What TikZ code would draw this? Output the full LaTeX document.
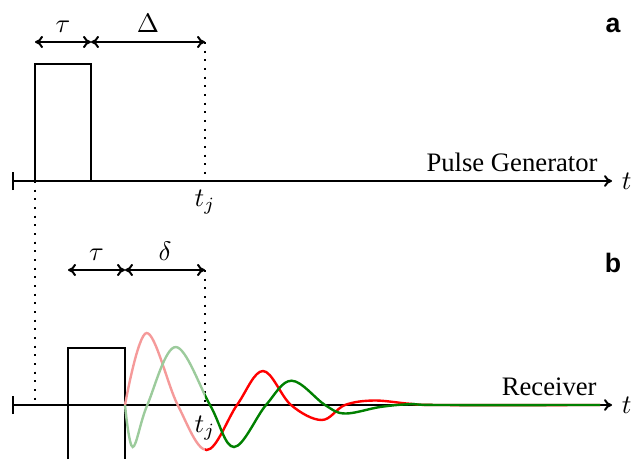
\documentclass[tikz,border=0pt]{standalone}
\usepackage{fontspec}
\setmainfont{Liberation Serif}
\newfontfamily\panelfont{Liberation Sans}
\usetikzlibrary{arrows.meta,positioning}
\definecolor{sigred}{HTML}{FF0000}
\definecolor{siggreen}{HTML}{008000}
\definecolor{palered}{HTML}{F59A9A}
\definecolor{palegreen}{HTML}{9CCB9C}
\tikzset{
  axis/.style  ={{Bar[width=6.8pt]}-{To[length=3pt,width=4.4pt]},line width=0.75pt},
  pulse/.style ={line width=0.75pt},
  dim/.style   ={{To[length=3pt,width=4.6pt]}-{To[length=3pt,width=4.6pt]},line width=0.75pt},
  guide/.style ={line width=0.8pt,dash pattern=on 0.8pt off 2.45pt},
  wave/.style  ={line width=0.9pt},
  panel/.style ={font=\panelfont\bfseries,anchor=base}
}
\newcommand{\redwave}{plot[smooth,tension=0.6] coordinates {(125,405) (146.7,333)
  (177.7,405) (206.7,450) (237,405) (263,371) (291,405) (321.7,420) (345,405)
  (374,400.5) (410,403.8) (440,405) (600,405)}}
\newcommand{\greenwave}{plot[smooth,tension=0.6] coordinates {(125,405) (132.7,447)
  (147.3,405) (175.7,347) (210,405) (234,447) (266,405) (291.7,380.7) (325,405)
  (345,413.5) (380,407) (410,404.2) (440,405) (600,405)}}
\begin{document}
\begin{tikzpicture}[x=0.375pt,y=-0.375pt]
  \useasboundingbox (0,0) rectangle (632,459);
  % pulse generator
  \coordinate (gstart) at (12,181);
  \coordinate (gend) at (612,181);
  \coordinate (gpa) at (35,181);
  \coordinate (gpb) at (91,181);
  \coordinate (gtj) at (205,181);
  \coordinate (dtl) at (35,42);
  \coordinate (dtm) at (91,42);
  \coordinate (dtr) at (205,42);
  \draw[axis] (gstart) -- (gend) node[right] (gt) {$t$};
  \draw[pulse] (gpa) |- (91,64) -- (gpb);
  \draw[dim] (dtl) -- (dtm) node[midway,above] (gtau) {$\tau$};
  \draw[dim] (dtm) -- (dtr) node[midway,above] (gdelta) {$\Delta$};
  \draw[guide] (dtr) -- (gtj);
  \node[below] (gtjlab) at (gtj) {$t_j$};
  \node[anchor=south east] (gen) at (607,181) {Pulse Generator};
  \node[panel] (pa) at (613,33) {a};
  % receiver
  \coordinate (rstart) at (12,405);
  \coordinate (rend) at (612,405);
  \coordinate (rgate) at (35,405);
  \coordinate (rtj) at (205,405);
  \coordinate (etl) at (68,270);
  \coordinate (etm) at (125,270);
  \coordinate (etr) at (205,270);
  \draw[guide] (gpa) -- (rgate);
  \draw[axis] (rstart) -- (rend) node[right] (rt) {$t$};
  \draw[pulse] (68,459) |- (125,348) -- (125,459);
  \draw[dim] (etl) -- (etm) node[midway,above] (rtau) {$\tau$};
  \draw[dim] (etm) -- (etr) node[midway,above] (rdelta) {$\delta$};
  \draw[guide] (etr) -- (rtj);
  \begin{scope}
    \clip (0,0) rectangle (205,459);
    \draw[wave,palered] \redwave;
    \draw[wave,palegreen] \greenwave;
  \end{scope}
  \begin{scope}
    \clip (205,0) rectangle (632,459);
    \draw[wave,sigred] \redwave;
    \draw[wave,siggreen] \greenwave;
  \end{scope}
  \node[below=0.8pt] (rtjlab) at (rtj) {$t_j$};
  \node[anchor=south east] (rec) at (606,405) {Receiver};
  \node[panel] (pb) at (613,272) {b};
\end{tikzpicture}
\end{document}
